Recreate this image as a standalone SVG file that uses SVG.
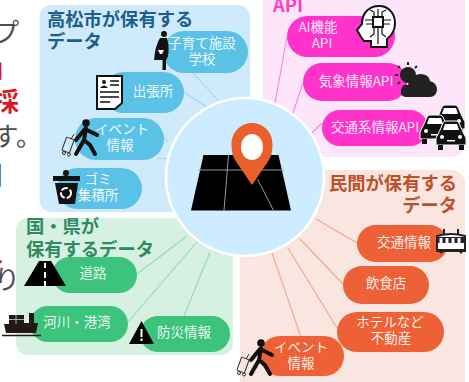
<svg xmlns="http://www.w3.org/2000/svg" xmlns:xlink="http://www.w3.org/1999/xlink" width="469" height="382" viewBox="0 0 469 382">
<style>
text{font-family:"Noto Sans CJK JP","Noto Sans",sans-serif}
.t{fill:#fff;font-size:13.5px;text-anchor:middle;fill-opacity:.92}
.h{font-size:18.300px;font-weight:700}
.side{font-size:26px;text-anchor:end;fill:#4d4d4d}
.red{fill:#d9181e;font-weight:700}
.b{fill:#5bc2e7}.p{fill:#ff33cc}.g{fill:#3cc47c}.o{fill:#ee6035}
.cb{stroke:#9fd8ee}.cp{stroke:#ff80e0}.cg{stroke:#8fdcb4}.co{stroke:#f5a58a}
#connectors line{stroke-width:1.1}
</style>
<defs>
<g id="walker">
<circle cx="86" cy="123" r="3.800" fill="#111"/>
<path d="M86 128 L84 140 M85 129 L97 135 M85 129 L76 140 M84 140 L76 154 M84 140 L90 145 L95 154" stroke="#111" stroke-width="4" fill="none" stroke-linecap="round" stroke-linejoin="round"/>
<g fill="none" stroke="#333" stroke-width="1">
<rect x="64" y="138" width="8" height="14" rx="1" transform="rotate(20 68 145)"/>
<path d="M71 139 L74 134"/>
<circle cx="64" cy="153" r="1.500"/>
<circle cx="69" cy="154.500" r="1.500"/>
</g>
</g>
<g id="car">
<path d="M-15 4 L-11 -4 L-8 -11 Q-7 -13 -5 -13 H5 Q7 -13 8 -11 L11 -4 L15 4 V11 H-15Z" fill="#111" stroke="#fff" stroke-width="1"/>
<path d="M-6 -10 H6 L8 -4 H-8Z" fill="#fff"/>
<rect x="-13" y="11" width="5" height="5" fill="#111"/><rect x="8" y="11" width="5" height="5" fill="#111"/>
<circle cx="-9" cy="3" r="2" fill="#fff"/><circle cx="9" cy="3" r="2" fill="#fff"/>
<rect x="-4" y="6" width="8" height="1.500" fill="#fff"/>
</g>
</defs>
<rect width="469" height="382" fill="#fff"/>

<g id="side-text">
<text class="side" x="19" y="42">プ</text>
<text class="side red" x="18" y="77">」</text>
<text class="side red" x="19" y="111">採</text>
<text class="side" x="42" y="146">す。</text>
<text class="side" x="5" y="185">日</text>
<text class="side" x="2" y="220">、</text>
<text class="side red" x="3" y="262">人</text>
<text class="side" x="20" y="289">り</text>
</g>

<g id="panels">
<rect x="39.500" y="5" width="210.500" height="207" rx="12" fill="#cfeafb"/>
<rect x="16" y="218" width="217" height="137" rx="12" fill="#d6f0e2"/>
<rect x="263" y="-20" width="202" height="177" rx="14" fill="#fde6fa"/>
<rect x="240" y="170" width="225" height="230" rx="14" fill="#f9e6e0"/>
</g>

<g id="connectors">
<line class="cb" x1="193" y1="73" x2="220" y2="102"/>
<line class="cb" x1="185" y1="93" x2="207" y2="107"/>
<line class="cb" x1="163" y1="137" x2="168" y2="142"/>
<line class="cb" x1="157" y1="158" x2="167" y2="159"/>
<line class="cp" x1="287" y1="37" x2="275" y2="103"/>
<line class="cp" x1="303" y1="83" x2="293" y2="113"/>
<line class="cp" x1="322" y1="123" x2="312" y2="133"/>
<line class="cg" x1="137" y1="274" x2="187" y2="236"/>
<line class="cg" x1="128" y1="322" x2="197" y2="242"/>
<line class="cg" x1="184" y1="316" x2="210" y2="252"/>
<line class="co" x1="316" y1="219" x2="357" y2="243"/>
<line class="co" x1="300" y1="239" x2="343" y2="284"/>
<line class="co" x1="288" y1="248" x2="337" y2="328"/>
<line class="co" x1="272" y1="253" x2="301" y2="337"/>
</g>

<g id="center">
<circle cx="245" cy="177" r="79" fill="#cdecff" stroke="#fff" stroke-width="2.500"/>
<path d="M203.500 155 H278.500 L291 210.500 H191Z" fill="#000"/>
<path d="M228.500 155 L224 210.500 M198 170 H284 M257.500 179 L273.500 210.500" stroke="#999" stroke-width="1" fill="none"/>
<path d="M252 185 L237 163 C232 156 231.500 150 231.500 144 C231.500 132 241 123 252 123 C263 123 272.500 132 272.500 144 C272.500 150 272 156 267 163Z" fill="#ea5f2c"/>
<ellipse cx="252" cy="147" rx="11" ry="13" fill="#fff"/>
</g>

<g id="title-blue"><text class="h" fill="#1c5f8c" x="47" y="26">高松市が保有する</text><text class="h" fill="#1c5f8c" x="47" y="48">データ</text></g>
<g id="title-pink"><text class="h" fill="#ff3ccc" x="273" y="12">API</text></g>
<g id="title-green"><text class="h" fill="#2e8b60" x="26" y="233">国・県が</text><text class="h" fill="#2e8b60" x="26" y="256">保有するデータ</text></g>
<g id="title-orange"><text class="h" fill="#c04f28" x="457" y="190" text-anchor="end">民間が保有する</text><text class="h" fill="#c04f28" x="457" y="212" text-anchor="end">データ</text></g>

<g id="n-school">
<rect class="b" x="163" y="31" width="85" height="42" rx="21"/>
<text class="t" x="202" y="48">子育て施設</text><text class="t" x="202" y="64">学校</text>
<circle cx="164" cy="34" r="3" fill="#111"/>
<path d="M160 38 H167 Q169 44 168.500 52 Q168 58 166 60 V70 H162.500 V60 H154 Q155 46 160 38Z" fill="#111"/>
<path d="M158 50 H164 L162 54 H160Z" fill="#fff"/>
</g>
<g id="n-office">
<rect class="b" x="103" y="72" width="81" height="41" rx="20.500"/>
<text class="t" x="153" y="96">出張所</text>
<path d="M97 76 H122 V103 L115 109 H97Z" fill="#fff" stroke="#111" stroke-width="2"/>
<circle cx="104" cy="82" r="2" fill="#111"/><path d="M100 88 Q104 83 108 88Z" fill="#111"/>
<path d="M110 81 H119 M110 85 H119 M100 92 H119 M100 97 H119 M100 102 H110" stroke="#111" stroke-width="1.500"/>
</g>
<g id="n-event1">
<rect class="b" x="75" y="118" width="89" height="42" rx="21"/>
<text class="t" x="122" y="134">イベント</text><text class="t" x="120" y="150">情報</text>
<use xlink:href="#walker" href="#walker"/>
</g>
<g id="n-trash">
<rect class="b" x="57" y="168" width="85" height="41" rx="20.500"/>
<text class="t" x="98" y="184">ゴミ</text><text class="t" x="98" y="200">集積所</text>
<circle cx="66" cy="173" r="3" fill="#111"/>
<rect x="53" y="176" width="27" height="5" fill="#111"/>
<path d="M55 183 H78 L75 204 H59Z" fill="#111"/>
<circle cx="66" cy="193" r="5" fill="none" stroke="#fff" stroke-width="2" stroke-dasharray="7 2"/>
</g>

<g id="n-ai">
<rect class="p" x="287" y="16" width="108" height="41" rx="20.500"/>
<text class="t" x="318" y="32">AI機能</text><text class="t" x="322" y="48">API</text>
<path d="M361 37 L357 30 L362 24 C362 12 370 6 379 6 C389 6 395 14 395 23 C395 31 391 36 387 39 V47 H371 V41 L364 41Z" fill="#fff" stroke="#111" stroke-width="2"/>
<rect x="373" y="17" width="10" height="10" fill="none" stroke="#111" stroke-width="2"/>
<path d="M378 17 V9 M374 17 V12 L370 10 M382 17 V12 L386 10 M383 20 H391 M383 24 H390 M373 20 H365 M373 24 H366 M378 27 V44 M374 27 V34 L370 37 M382 27 V34 L386 37" stroke="#111" stroke-width="1.200" fill="none"/>
</g>
<g id="n-weather">
<rect class="p" x="303" y="63" width="104" height="38" rx="19"/>
<text class="t" x="356" y="86">気象情報API</text>
<circle cx="408" cy="75" r="8" fill="#222"/>
<path d="M408 62 V65 M398 66 L400 68 M395 75 H398 M398 84 L400 82 M417 66 L415 68" stroke="#222" stroke-width="2"/>
<path d="M406 97 Q400 97 401 90 Q402 84 408 85 Q410 75 420 74 Q429 74 430 81 Q437 83 437 90 Q436 97 430 97Z" fill="#222"/>
</g>
<g id="n-traffic">
<rect class="p" x="322" y="110" width="106" height="36" rx="18"/>
<text class="t" x="375" y="132">交通系情報API</text>
<use xlink:href="#car" href="#car" transform="translate(450 118)"/>
<use xlink:href="#car" href="#car" transform="translate(435 128)"/>
<use xlink:href="#car" href="#car" transform="translate(451 134)"/>
</g>

<g id="n-road">
<rect class="g" x="52" y="257" width="85" height="36" rx="18"/>
<text class="t" x="93" y="278">道路</text>
<path d="M24 286 L39 261 H51 L66 286Z" fill="#000"/>
<path d="M45 263 V268 M45 272 V278 M45 281 V286" stroke="#fff" stroke-width="2"/>
</g>
<g id="n-river">
<rect class="g" x="30" y="306" width="98" height="36" rx="18"/>
<text class="t" x="77" y="327">河川・港湾</text>
<path d="M6 333 H36 L38 323 H34 V313 H29 V323 H24 V315 H9 V324 H4Z" fill="#231815"/>
<path d="M2 335.500 H41" stroke="#231815" stroke-width="1.500"/>
<path d="M16 315 V324 M9 319.500 H24" stroke="#d8cfc8" stroke-width=".8"/>
</g>
<g id="n-disaster">
<rect class="g" x="140" y="316" width="90" height="36" rx="18"/>
<text class="t" x="184" y="337">防災情報</text>
<path d="M141.500 321 L154 344 H129Z" fill="#000"/>
<rect x="140.500" y="329" width="2" height="8" fill="#fff"/><rect x="140.500" y="338.500" width="2" height="2.500" fill="#fff"/>
</g>

<g id="n-transit">
<rect class="o" x="357" y="225" width="91" height="37" rx="18.500"/>
<text class="t" x="404" y="247">交通情報</text>
<path d="M437 236 Q451 232 465 236 V251 H437Z" fill="#fff" stroke="#222" stroke-width="2"/>
<rect x="436" y="237" width="30" height="6" fill="#222"/>
<path d="M441 238 V243 M447 238 V243 M453 238 V243 M459 238 V243" stroke="#fff" stroke-width="3"/>
<rect x="436" y="249" width="30" height="2" fill="#222"/>
<path d="M444 229 V234 M458 229 V234" stroke="#222" stroke-width="2"/>
<circle cx="441" cy="252" r="1.500" fill="#222"/><circle cx="461" cy="252" r="1.500" fill="#222"/>
</g>
<g id="n-food">
<rect class="o" x="343" y="266" width="86" height="38" rx="19"/>
<text class="t" x="386" y="288">飲食店</text>
</g>
<g id="n-hotel">
<rect class="o" x="337" y="312" width="107" height="40" rx="20"/>
<text class="t" x="390" y="327">ホテルなど</text><text class="t" x="391" y="343">不動産</text>
</g>
<g id="n-event2">
<rect class="o" x="260" y="336" width="84" height="40" rx="20"/>
<text class="t" x="301" y="352">イベント</text><text class="t" x="301" y="368">情報</text>
<use xlink:href="#walker" href="#walker" transform="translate(175 220)"/>
</g>
</svg>
